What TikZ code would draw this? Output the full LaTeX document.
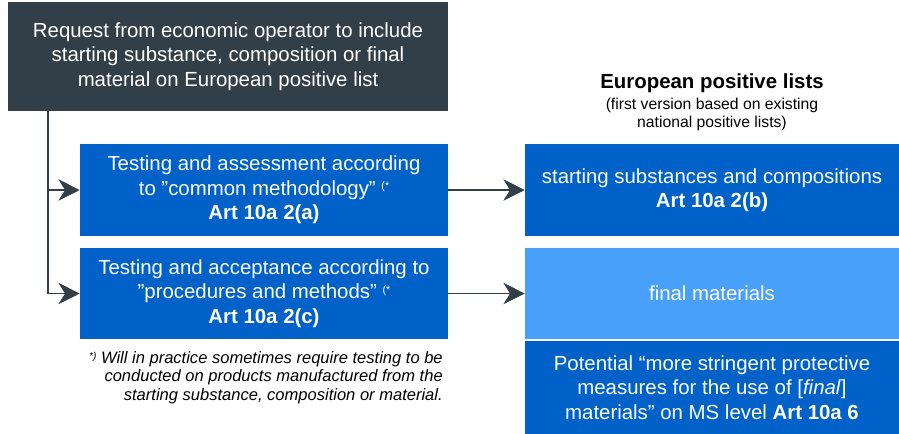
\documentclass[tikz,border=0pt]{standalone}
\usepackage{fontspec}
\setmainfont{Liberation Sans}
\usetikzlibrary{arrows.meta}
\definecolor{darkslate}{HTML}{333F48}
\definecolor{midblue}{HTML}{0062C8}
\definecolor{lightblue}{HTML}{48A0F8}
\begin{document}
\begin{tikzpicture}[x=0.75pt,y=-0.75pt,
  boxbase/.style={draw=none,text=white,align=center,inner sep=0pt,
    font=\fontsize{15.3}{18.4}\selectfont},
  topbox/.style={boxbase,fill=darkslate,minimum width=330pt,minimum height=81.75pt},
  leftbox/.style={boxbase,fill=midblue,minimum width=276pt,minimum height=68.6pt},
  rightbox/.style={boxbase,fill=midblue,minimum width=280.5pt,minimum height=68.6pt},
  lightbox/.style={boxbase,fill=lightblue,minimum width=280.5pt,minimum height=68.6pt},
  arr/.style={draw=darkslate,line width=1pt,-{Stealth[length=16pt,width=16pt,inset=5pt]}}]
\useasboundingbox (0,0) rectangle (899,433);
\node[topbox] (top) at (228,56.5) {Request from economic operator to include\\starting substance, composition or final\\material on European positive list};
\node[leftbox] (A) at (264,190) {Testing and assessment according\\to ”common methodology” \raisebox{4pt}{\fontsize{8}{8}\selectfont(*}\\\textbf{Art 10a 2(a)}};
\node[leftbox] (C) at (264,293.5) {Testing and acceptance according to\\”procedures and methods” \raisebox{4pt}{\fontsize{8}{8}\selectfont(*}\\\textbf{Art 10a 2(c)}};
\node[rightbox] (B) at (712,190) {starting substances and compositions\\\textbf{Art 10a 2(b)}};
\node[lightbox] (F) at (712,293.5) {final materials};
\node[rightbox,minimum height=69.5pt] (M) at (712,387.5) {Potential “more stringent protective\\measures for the use of [\textit{final}]\\materials” on MS level \textbf{Art 10a 6}};
\node[align=center,inner sep=0pt,font=\fontsize{15.3}{18}\selectfont\bfseries] (T) at (712,83) {European positive lists};
\node[align=center,inner sep=0pt,font=\fontsize{11.8}{13.5}\selectfont] (S) at (712,114) {(first version based on existing\\national positive lists)};
\node[align=right,inner sep=0pt,anchor=north east,font=\fontsize{12.4}{14}\selectfont\itshape] (N) at (443,351) {\raisebox{3pt}{\fontsize{7.5}{7.5}\selectfont *)} Will in practice sometimes require testing to be\\conducted on products manufactured from the\\starting substance, composition or material.};
\coordinate (v) at (48,111);
\draw[arr] (v) |- (A.west);
\draw[arr] (v) |- (C.west);
\draw[arr] (A.east) -- (B.west);
\draw[arr] (C.east) -- (F.west);
\end{tikzpicture}
\end{document}
